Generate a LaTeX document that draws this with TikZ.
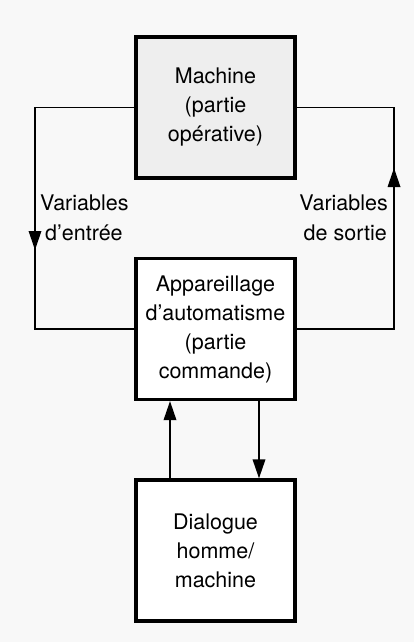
\documentclass[tikz,border=0pt]{standalone}
\usepackage{fontspec}
\setmainfont{TeX Gyre Heros}
\usetikzlibrary{arrows.meta}
\definecolor{bg}{HTML}{F8F8F8}
\definecolor{machfill}{HTML}{EEEEEE}
\tikzset{
  blockbox/.style={draw=black, line width=3.2pt, minimum width=159pt, minimum height=141pt,
    align=center, font=\fontsize{21.5}{29}\selectfont, inner sep=0pt},
  conn/.style={line width=1.8pt},
  arr/.style={line width=1.8pt, -{Triangle[length=19pt,width=12.5pt]}},
  lbl/.style={font=\fontsize{21.5}{30}\selectfont, inner sep=0pt}
}
\begin{document}
\begin{tikzpicture}[x=1pt,y=-1pt]
\useasboundingbox (0,0) rectangle (414,642);
\fill[bg] (0,0) rectangle (414,642);
\node[blockbox, fill=machfill] (mach) at (215.5,107.5) {Machine\\(partie\\opérative)};
\node[blockbox, fill=white] (app) at (215.5,329) {Appareillage\\d’automatisme\\(partie\\commande)};
\node[blockbox, fill=white] (dia) at (215.5,550.5) {Dialogue\\homme/\\machine};
% left loop
\coordinate (lt) at (35,107.5);
\coordinate (lb) at (35,329);
\coordinate (la) at (35,250);
\draw[conn] (mach.west) -- (lt) -- (lb) -- (app.west);
\draw[arr] (lt) -- (la);
% right loop
\coordinate (rt) at (394,107.5);
\coordinate (rb) at (394,329);
\coordinate (ra) at (394,168);
\draw[conn] (app.east) -- (rb) -- (rt) -- (mach.east);
\draw[arr] (rb) -- (ra);
% vertical arrows
\draw[arr] ([xshift=-45.5pt]dia.north) -- ([xshift=-45.5pt]app.south);
\draw[arr] ([xshift=43.5pt]app.south) -- ([xshift=43.5pt]dia.north);
% labels
\node[lbl, anchor=base west] (lv1) at (40,210) {Variables};
\node[lbl, anchor=base west] (lv2) at (45,240) {d’entrée};
\node[lbl, anchor=base east] (rv1) at (388,210) {Variables};
\node[lbl, anchor=base east] (rv2) at (387,240) {de sortie};
\end{tikzpicture}
\end{document}
